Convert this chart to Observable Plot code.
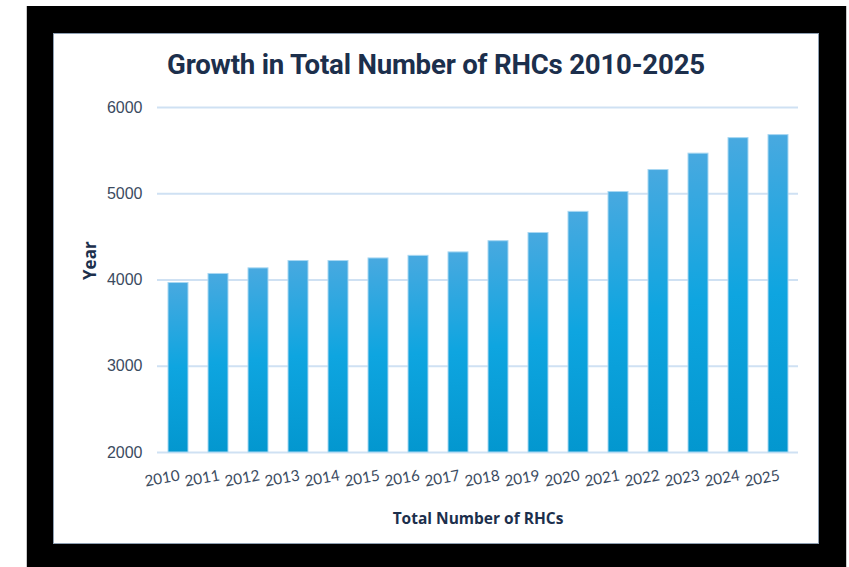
<!DOCTYPE html>
<html>
<head>
<meta charset="utf-8">
<script src="https://cdn.jsdelivr.net/npm/d3@7"></script>
<script src="https://cdn.jsdelivr.net/npm/@observablehq/plot@0.6"></script>
<style>
  html, body { margin: 0; padding: 0; background: #ffffff; width: 849px; height: 567px; overflow: hidden; }
  #edge { position: absolute; left: 26px; top: 6px; width: 821px; height: 561px; background: #c8c8c8; }
  #frame { position: absolute; left: 27px; top: 6px; width: 819px; height: 561px; background: #000000; }
  #panel { position: absolute; left: 53px; top: 33px; width: 764px; height: 509px; background: #ffffff; border: 1px solid #8e9fb2; }
  #title { position: absolute; left: 53px; top: 48px; width: 766px; text-align: center;
           font-family: Roboto, "Open Sans", sans-serif; font-weight: 700; font-size: 27.6px; color: #1c2f4c;
           letter-spacing: -0.2px; }
  #chart { position: absolute; left: 53px; top: 90px; }
</style>
</head>
<body>
<div id="edge"></div>
<div id="frame"></div>
<div id="panel"></div>
<div id="title">Growth in Total Number of RHCs 2010-2025</div>
<div id="chart"></div>
<script>
const years = ["2010","2011","2012","2013","2014","2015","2016","2017","2018","2019","2020","2021","2022","2023","2024","2025"];
const counts = [3965, 4070, 4135, 4220, 4220, 4250, 4280, 4320, 4450, 4545, 4790, 5020, 5275, 5465, 5645, 5680];
const yTicks = [2000, 3000, 4000, 5000, 6000];
const xTitle = "Total Number of RHCs";
const yTitle = "Year";

const data = years.map((yr, i) => ({year: yr, count: counts[i]}));

const plot = Plot.plot({
  width: 766,
  height: 440,
  marginLeft: 104,
  marginRight: 21,
  marginTop: 17,
  marginBottom: 78,
  style: {fontFamily: "'Liberation Sans', Arial, sans-serif", fontSize: "16px", color: "#3b4b5f", background: "transparent"},
  x: {domain: years, paddingInner: 0.5, paddingOuter: 0.25, label: null},
  y: {domain: [2000, 6000], label: null},
  marks: [
    Plot.gridY(yTicks, {stroke: "#cfe1f3", strokeOpacity: 1, strokeWidth: 2}),
    Plot.barY(data, {x: "year", y1: 2000, y2: "count", fill: "url(#barGrad)", stroke: "#a8d7f2", strokeWidth: 1}),
    Plot.axisY({ticks: yTicks, tickSize: 0, tickPadding: 15, label: null, tickFormat: d => String(d), fontSize: 16}),
    Plot.axisX({tickSize: 0, tickPadding: 23, tickRotate: -10, label: null, fontSize: 15.2, fontFamily: "Lato, sans-serif", dx: 1}),
    Plot.text([xTitle], {frameAnchor: "bottom", dy: 71, fontWeight: "bold", fontSize: 15.5, fill: "#1c2f4c", fontFamily: "'Open Sans', sans-serif"}),
    Plot.text([yTitle], {frameAnchor: "left", dx: -67, rotate: -90, fontWeight: "bold", fontSize: 17, fill: "#1c2f4c", fontFamily: "'Open Sans', sans-serif"})
  ]
});

const ns = "http://www.w3.org/2000/svg";
const defs = document.createElementNS(ns, "defs");
const grad = document.createElementNS(ns, "linearGradient");
grad.setAttribute("id", "barGrad");
grad.setAttribute("x1", "0"); grad.setAttribute("y1", "0");
grad.setAttribute("x2", "0"); grad.setAttribute("y2", "1");
[["0%", "#48a9e0"], ["50%", "#0ea5e0"], ["100%", "#0397cf"]].forEach(([o, c]) => {
  const s = document.createElementNS(ns, "stop");
  s.setAttribute("offset", o); s.setAttribute("stop-color", c);
  grad.appendChild(s);
});
defs.appendChild(grad);
plot.insertBefore(defs, plot.firstChild);
document.getElementById("chart").appendChild(plot);
</script>
</body>
</html>
